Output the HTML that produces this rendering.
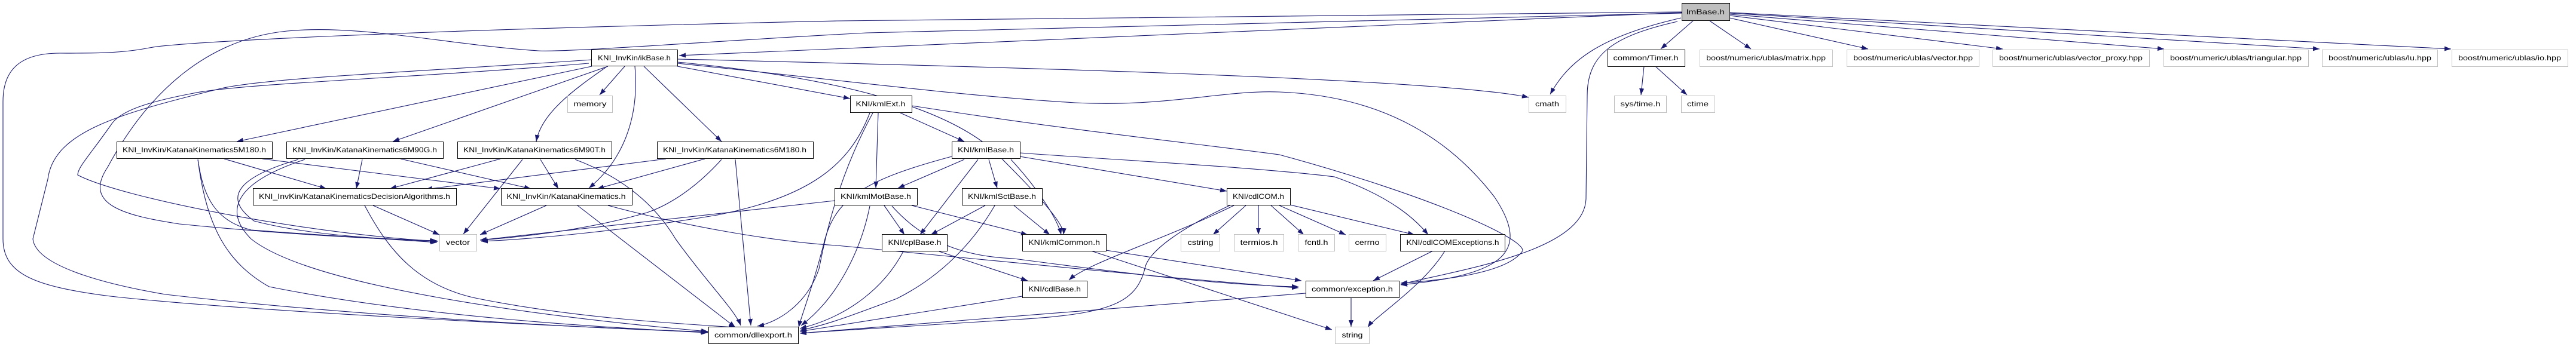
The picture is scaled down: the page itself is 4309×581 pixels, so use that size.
<!DOCTYPE html>
<html><head><meta charset="utf-8"><style>html,body{margin:0;padding:0;background:#fff}svg{display:block}</style></head>
<body>
<svg width="4309" height="581" viewBox="0 0 4309 581" xmlns="http://www.w3.org/2000/svg" font-family="Liberation Sans, sans-serif" font-size="12">
<defs><marker id="a" markerUnits="userSpaceOnUse" markerWidth="12" markerHeight="10" refX="11" refY="4" orient="auto"><path d="M0,0 L11,4 L0,8 z" fill="#191970"/></marker></defs>
<g fill="none" stroke="#191970" stroke-width="1.1" marker-end="url(#a)">
<!-- lmBase -->
<path d="M2813,21 L1136,93"/>
<path d="M2813,20 L1400,35 C700,50 300,70 250,80 C200,90 150,89 100,89 C30,89 5,120 5,170 L5,400 C5,460 60,480 185,496 C400,520 900,545 1183,556"/>
<path d="M2813,22 L1450,55 C1200,68 950,88 900,85 C750,75 600,40 480,52 C350,65 250,150 180,280 C140,340 200,360 300,375 C500,395 650,400 733,404"/>
<path d="M2812,30 C2680,60 2625,100 2593,158"/>
<path d="M2833,34 L2778,82"/>
<path d="M2806,36 C2700,60 2655,90 2655,160 L2653,333 C2650,420 2450,450 2343,476"/>
<path d="M2860,35 L2929,82"/>
<path d="M2893,30 L3125,82"/>
<path d="M2893,26 L3350,82"/>
<path d="M2893,24 L3620,82"/>
<path d="M2893,22 L3880,82"/>
<path d="M2893,21 L4100,82"/>
<!-- ikBase -->
<path d="M1045,111 L1003,159"/>
<path d="M990,111 L396,237"/>
<path d="M1017,111 L657,237"/>
<path d="M1013,113 C960,150 905,190 897,237"/>
<path d="M1077,111 L1207,237"/>
<path d="M1062,111 C1070,200 1040,270 985,315"/>
<path d="M1133,111 L1422,165"/>
<path d="M1133,99 C1600,110 2400,130 2557,163"/>
<path d="M1133,104 C1400,130 1600,180 1680,270 C1760,350 1780,380 1779,393"/>
<path d="M1133,106 C1400,133 1600,160 1798,172 C1950,180 2050,150 2140,154 C2300,160 2417,222 2500,330 C2560,420 2520,460 2343,477"/>
<path d="M985,106 C700,130 400,140 324,156 C250,170 200,185 185,210 C150,260 130,280 130,293 C200,330 500,390 730,404"/>
<path d="M990,100 C700,120 450,130 370,148 C200,190 90,220 80,300 L55,400 C60,450 200,480 277,493 C600,530 1000,550 1184,556"/>
<!-- 5M180 -->
<path d="M375,266 L546,316"/>
<path d="M439,266 L837,316"/>
<path d="M331,267 C340,330 360,370 420,385 C550,395 650,400 731,406"/>
<path d="M331,267 C345,380 380,440 450,480 C700,530 1000,548 1184,557"/>
<!-- 6M90G -->
<path d="M606,267 L596,316"/>
<path d="M670,266 L888,316"/>
<path d="M499,267 C400,296 370,330 425,370 C520,395 650,401 731,403"/>
<path d="M510,267 C380,310 380,360 420,400 C520,480 900,530 1184,555"/>
<!-- 6M90T -->
<path d="M837,266 L652,316"/>
<path d="M904,267 L934,316"/>
<path d="M874,267 L775,392"/>
<path d="M962,267 C1050,300 1100,350 1130,400 C1180,470 1230,520 1239,545"/>
<!-- 6M180 -->
<path d="M1114,266 L712,317"/>
<path d="M1179,266 L999,316"/>
<path d="M1207,267 C1150,330 1100,350 1082,356 C1000,380 900,395 803,402"/>
<path d="M1230,267 L1256,545"/>
<!-- Decision -->
<path d="M624,344 L735,393"/>
<path d="M610,344 C650,420 700,480 800,500 C950,530 1100,540 1230,548"/>
<!-- KatanaK -->
<path d="M914,344 L803,393"/>
<path d="M966,344 L1230,548"/>
<path d="M1017,344 C1150,380 1300,405 1400,411 C1700,440 2000,470 2172,482"/>
<!-- kmlExt -->
<path d="M1506,189 L1613,237"/>
<path d="M1469,189 L1465,315"/>
<path d="M1455,189 C1420,280 1350,330 1200,360 C1050,385 900,400 805,404"/>
<path d="M1460,189 C1400,300 1380,400 1370,450 C1350,510 1300,540 1267,546"/>
<path d="M1525,177 C1800,220 2000,240 2140,259 C2400,330 2550,400 2547,420 C2520,460 2400,470 2343,474"/>
<!-- kmlBase -->
<path d="M1613,267 L1502,315"/>
<path d="M1636,267 L1539,393"/>
<path d="M1654,267 L1668,315"/>
<path d="M1691,267 C1740,320 1770,370 1775,393"/>
<path d="M1706,262 L2052,320"/>
<path d="M1706,256 C1900,270 2100,280 2232,296 C2330,330 2370,370 2389,393"/>
<path d="M1592,262 C1450,300 1400,330 1380,400 C1360,480 1340,530 1336,548"/>
<!-- kmlMotBase -->
<path d="M1396,336 L803,402"/>
<path d="M1479,344 L1513,393"/>
<path d="M1525,344 L1719,393"/>
<path d="M1492,345 C1550,410 1620,430 1696,433 C1900,460 2050,478 2172,480"/>
<path d="M1455,345 C1440,420 1400,500 1340,545"/>
<!-- kmlSctBase -->
<path d="M1648,344 L1557,393"/>
<path d="M1696,344 L1756,393"/>
<path d="M1664,344 C1620,420 1560,470 1500,500 C1420,530 1380,545 1338,553"/>
<!-- cplBase -->
<path d="M1571,421 L1719,470"/>
<path d="M1511,421 C1480,480 1420,530 1338,550"/>
<!-- kmlCommon -->
<path d="M1850,419 L2177,470"/>
<path d="M1825,420 L2228,552"/>
<!-- cdlCOM -->
<path d="M2084,344 L2029,393"/>
<path d="M2105,344 L2105,393"/>
<path d="M2126,344 L2181,393"/>
<path d="M2140,344 L2251,393"/>
<path d="M2158,343 L2366,393"/>
<path d="M2064,344 C1950,400 1820,440 1788,469"/>
<path d="M2057,344 C1980,380 1920,420 1915,450 C1900,510 1850,526 1700,535 C1550,545 1450,550 1338,558"/>
<!-- cdlCOMExceptions -->
<path d="M2397,420 L2297,470"/>
<path d="M2417,420 C2380,480 2300,530 2288,548"/>
<!-- cdlBase, exception -->
<path d="M1710,496 L1338,555"/>
<path d="M2260,498 L2260,547"/>
<path d="M2184,491 L1338,558"/>
<!-- Timer -->
<path d="M2750,111 L2745,159"/>
<path d="M2769,111 L2822,159"/>
</g>
<g stroke-width="1">
<!-- black-bordered nodes -->
<g fill="#fff" stroke="#000">
<rect x="989.5" y="83.5" width="144" height="27"/>
<rect x="195.5" y="237.5" width="260" height="28"/>
<rect x="479.5" y="237.5" width="262" height="28"/>
<rect x="765.5" y="237.5" width="258" height="28"/>
<rect x="1099.5" y="237.5" width="261" height="28"/>
<rect x="423.5" y="315.5" width="340" height="28"/>
<rect x="838.5" y="315.5" width="219" height="28"/>
<rect x="1185.5" y="547.5" width="150" height="28"/>
<rect x="1422.5" y="160.5" width="103" height="28"/>
<rect x="2689.5" y="83.5" width="129" height="28"/>
<rect x="1592.5" y="237.5" width="114" height="28"/>
<rect x="1396.5" y="315.5" width="138" height="28"/>
<rect x="1609.5" y="315.5" width="134" height="28"/>
<rect x="2052.5" y="315.5" width="106" height="28"/>
<rect x="1475.5" y="392.5" width="109" height="28"/>
<rect x="1710.5" y="392.5" width="140" height="28"/>
<rect x="2342.5" y="392.5" width="175" height="28"/>
<rect x="1710.5" y="470.5" width="108" height="28"/>
<rect x="2184.5" y="470.5" width="156" height="28"/>
</g>
<rect x="2813.5" y="5.5" width="80" height="29" fill="#bfbfbf" stroke="#000"/>
<g fill="#fff" stroke="#bfbfbf">
<rect x="949.5" y="160.5" width="75" height="28"/>
<rect x="735.5" y="392.5" width="62" height="28"/>
<rect x="2557.5" y="160.5" width="62" height="28"/>
<rect x="2700.5" y="160.5" width="87" height="28"/>
<rect x="2812.5" y="160.5" width="56" height="28"/>
<rect x="1975.5" y="392.5" width="65" height="28"/>
<rect x="2064.5" y="392.5" width="83" height="28"/>
<rect x="2171.5" y="392.5" width="61" height="28"/>
<rect x="2256.5" y="392.5" width="62" height="28"/>
<rect x="2233.5" y="547.5" width="57" height="28"/>
<rect x="2843.5" y="83.5" width="222" height="28"/>
<rect x="3089.5" y="83.5" width="221" height="28"/>
<rect x="3333.5" y="83.5" width="262" height="28"/>
<rect x="3619.5" y="83.5" width="242" height="28"/>
<rect x="3884.5" y="83.5" width="193" height="28"/>
<rect x="4101.5" y="83.5" width="194" height="28"/>
</g>
</g>
<g fill="#000" text-anchor="middle" lengthAdjust="spacingAndGlyphs">
<text x="2853" y="24" textLength="64" lengthAdjust="spacingAndGlyphs">lmBase.h</text>
<text x="1061" y="101" textLength="122" lengthAdjust="spacingAndGlyphs">KNI_InvKin/ikBase.h</text>
<text x="325" y="255" textLength="240" lengthAdjust="spacingAndGlyphs">KNI_InvKin/KatanaKinematics5M180.h</text>
<text x="610" y="255" textLength="242" lengthAdjust="spacingAndGlyphs">KNI_InvKin/KatanaKinematics6M90G.h</text>
<text x="894" y="255" textLength="238" lengthAdjust="spacingAndGlyphs">KNI_InvKin/KatanaKinematics6M90T.h</text>
<text x="1229" y="255" textLength="240" lengthAdjust="spacingAndGlyphs">KNI_InvKin/KatanaKinematics6M180.h</text>
<text x="593" y="333" textLength="320" lengthAdjust="spacingAndGlyphs">KNI_InvKin/KatanaKinematicsDecisionAlgorithms.h</text>
<text x="947" y="333" textLength="199" lengthAdjust="spacingAndGlyphs">KNI_InvKin/KatanaKinematics.h</text>
<text x="1260" y="565" textLength="130" lengthAdjust="spacingAndGlyphs">common/dllexport.h</text>
<text x="1473" y="178" textLength="83" lengthAdjust="spacingAndGlyphs">KNI/kmlExt.h</text>
<text x="2753" y="101" textLength="109" lengthAdjust="spacingAndGlyphs">common/Timer.h</text>
<text x="1649" y="255" textLength="94" lengthAdjust="spacingAndGlyphs">KNI/kmlBase.h</text>
<text x="1465" y="333" textLength="118" lengthAdjust="spacingAndGlyphs">KNI/kmlMotBase.h</text>
<text x="1676" y="333" textLength="114" lengthAdjust="spacingAndGlyphs">KNI/kmlSctBase.h</text>
<text x="2105" y="333" textLength="86" lengthAdjust="spacingAndGlyphs">KNI/cdlCOM.h</text>
<text x="1530" y="410" textLength="89" lengthAdjust="spacingAndGlyphs">KNI/cplBase.h</text>
<text x="1780" y="410" textLength="120" lengthAdjust="spacingAndGlyphs">KNI/kmlCommon.h</text>
<text x="2430" y="410" textLength="155" lengthAdjust="spacingAndGlyphs">KNI/cdlCOMExceptions.h</text>
<text x="1764" y="488" textLength="88" lengthAdjust="spacingAndGlyphs">KNI/cdlBase.h</text>
<text x="2262" y="488" textLength="136" lengthAdjust="spacingAndGlyphs">common/exception.h</text>
<text x="987" y="178" textLength="55" lengthAdjust="spacingAndGlyphs">memory</text>
<text x="766" y="410" textLength="40" lengthAdjust="spacingAndGlyphs">vector</text>
<text x="2588" y="178" textLength="40" lengthAdjust="spacingAndGlyphs">cmath</text>
<text x="2744" y="178" textLength="67" lengthAdjust="spacingAndGlyphs">sys/time.h</text>
<text x="2840" y="178" textLength="36" lengthAdjust="spacingAndGlyphs">ctime</text>
<text x="2008" y="410" textLength="43" lengthAdjust="spacingAndGlyphs">cstring</text>
<text x="2106" y="410" textLength="63" lengthAdjust="spacingAndGlyphs">termios.h</text>
<text x="2202" y="410" textLength="39" lengthAdjust="spacingAndGlyphs">fcntl.h</text>
<text x="2287" y="410" textLength="41" lengthAdjust="spacingAndGlyphs">cerrno</text>
<text x="2262" y="565" textLength="35" lengthAdjust="spacingAndGlyphs">string</text>
<text x="2954" y="101" textLength="200" lengthAdjust="spacingAndGlyphs">boost/numeric/ublas/matrix.hpp</text>
<text x="3200" y="101" textLength="200" lengthAdjust="spacingAndGlyphs">boost/numeric/ublas/vector.hpp</text>
<text x="3464" y="101" textLength="240" lengthAdjust="spacingAndGlyphs">boost/numeric/ublas/vector_proxy.hpp</text>
<text x="3740" y="101" textLength="220" lengthAdjust="spacingAndGlyphs">boost/numeric/ublas/triangular.hpp</text>
<text x="3981" y="101" textLength="172" lengthAdjust="spacingAndGlyphs">boost/numeric/ublas/lu.hpp</text>
<text x="4198" y="101" textLength="172" lengthAdjust="spacingAndGlyphs">boost/numeric/ublas/io.hpp</text>
</g>
</svg>
</body></html>
